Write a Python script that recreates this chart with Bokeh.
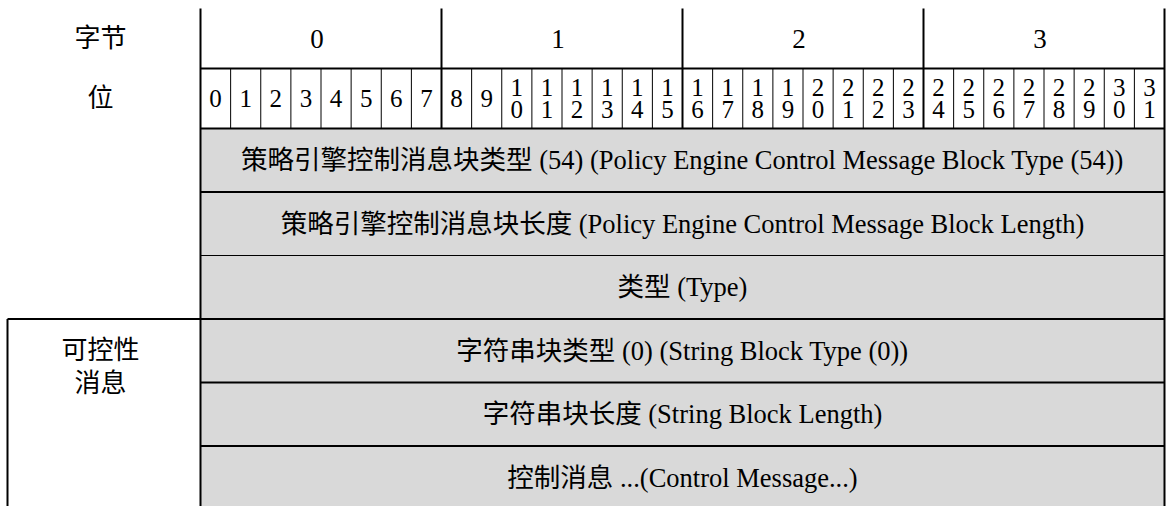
from bokeh.plotting import figure
from bokeh.models import Range1d
from bokeh.core.properties import value
from bokeh.embed import file_html
from bokeh.resources import INLINE

# ---- data ----
byte_labels = ["0", "1", "2", "3"]
bit_labels = ["0", "1", "2", "3", "4", "5", "6", "7",
              "8", "9", "10", "11", "12", "13", "14", "15",
              "16", "17", "18", "19", "20", "21", "22", "23",
              "24", "25", "26", "27", "28", "29", "30", "31"]
header_labels = ["字节", "位"]
field_labels = [
    "策略引擎控制消息块类型 (54) (Policy Engine Control Message Block Type (54))",
    "策略引擎控制消息块长度 (Policy Engine Control Message Block Length)",
    "类型 (Type)",
    "字符串块类型 (0) (String Block Type (0))",
    "字符串块长度 (String Block Length)",
    "控制消息 ...(Control Message...)",
]
field_bits = [32, 32, 32, 32, 32, 32]
group_label = "可控性\n消息"
group_first_row = 3  # index of first field row belonging to the group

# ---- layout (screen pixels; data coords == screen coords) ----
W, H = 1169, 506
X0, X1 = 200.0, 1164.0
GX = 7.0
Y0 = 8.0
HDR_H = 60.0
ROW_H = 63.5
BOTTOM = 530.0
BYTE_DX = -4.0
bit_w = (X1 - X0) / len(bit_labels)
byte_w = (X1 - X0) / len(byte_labels)
FONT = value("'Liberation Serif', 'Noto Sans CJK SC', serif")
GRAY = "#d9d9d9"
INK = "#000000"

p = figure(width=W, height=H, output_backend="svg", toolbar_location=None,
           x_range=Range1d(0, W), y_range=Range1d(H, 0),
           min_border=0, outline_line_color=None)
p.axis.visible = False
p.grid.visible = False
p.background_fill_color = "white"
p.border_fill_color = "white"

y_byte_bot = Y0 + HDR_H
y_bit_bot = Y0 + 2 * HDR_H
row_tops = [y_bit_bot + i * ROW_H for i in range(len(field_labels))]

# gray field rows
p.quad(left=[X0] * len(field_labels),
       right=[X0 + bit_w * b for b in field_bits],
       top=row_tops, bottom=[t + ROW_H for t in row_tops],
       fill_color=GRAY, line_color=None)

# lines
xs, ys, ws = [], [], []
def seg(x0, y0, x1, y1, w):
    xs.append([x0, x1]); ys.append([y0, y1]); ws.append(w)

seg(X0, Y0, X0, BOTTOM, 2)
seg(X1, Y0, X1, BOTTOM, 2)
for k in range(1, len(byte_labels)):
    seg(X0 + k * byte_w, Y0, X0 + k * byte_w, y_bit_bot, 2)
for i in range(1, len(bit_labels)):
    if i % 8:
        seg(X0 + i * bit_w, y_byte_bot, X0 + i * bit_w, y_bit_bot, 1)
seg(X0, y_byte_bot, X1, y_byte_bot, 2)
seg(X0, y_bit_bot, X1, y_bit_bot, 2)
for i in range(1, len(field_labels)):
    yy = row_tops[i]
    if i == group_first_row:
        seg(GX, yy, X1, yy, 2)
    else:
        seg(X0, yy, X1, yy, 1 if i == 2 else 2)
seg(GX, row_tops[group_first_row], GX, BOTTOM, 2)
p.multi_line(xs=xs, ys=ys, line_width=ws, line_color="black")

# header texts
p.text(x=[X0 / 2, X0 / 2], y=[Y0 + HDR_H / 2, Y0 + 1.5 * HDR_H],
       text=header_labels, text_font=FONT, text_font_size="26px",
       text_align="center", text_baseline="middle", text_color=INK)
p.text(x=[X0 + (k + 0.5) * byte_w + BYTE_DX for k in range(len(byte_labels))],
       y=[Y0 + HDR_H / 2] * len(byte_labels), text=byte_labels,
       text_font=FONT, text_font_size="27px",
       text_align="center", text_baseline="middle", text_color=INK)
bit_txt = ["\n".join(list(b)) for b in bit_labels]
p.text(x=[X0 + (i + 0.5) * bit_w for i in range(len(bit_labels))],
       y=[Y0 + 1.5 * HDR_H] * len(bit_labels), text=bit_txt,
       text_font=FONT, text_font_size="25px", text_line_height=0.82,
       text_align="center", text_baseline="middle", text_color=INK)

# field texts
p.text(x=[X0 + bit_w * b / 2 for b in field_bits],
       y=[t + ROW_H / 2 for t in row_tops], text=field_labels,
       text_font=FONT, text_font_size="26.5px",
       text_align="center", text_baseline="middle", text_color=INK)

# group label
p.text(x=[X0 / 2], y=[row_tops[group_first_row] + 17], text=[group_label],
       text_font=FONT, text_font_size="26px", text_line_height=1.15,
       text_align="center", text_baseline="top", text_color=INK)

open("out.html", "w").write(file_html(p, INLINE))
